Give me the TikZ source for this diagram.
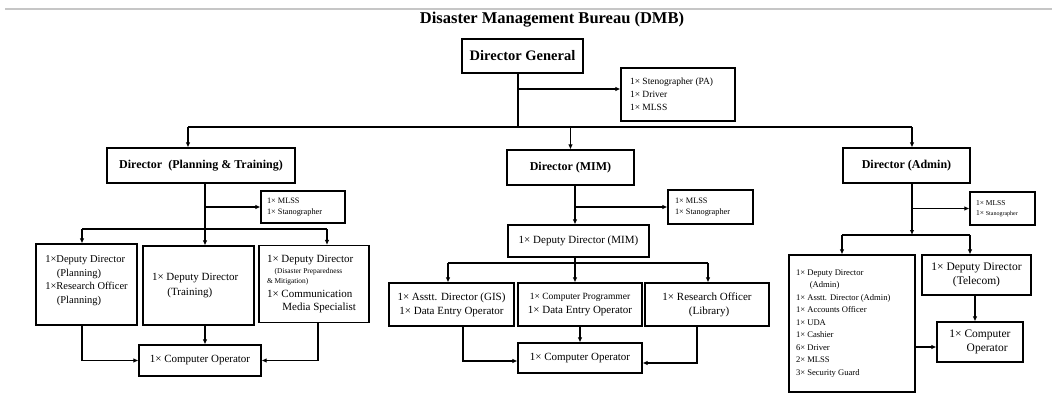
\documentclass[tikz,border=0pt]{standalone}
\usepackage{fontspec}
\setmainfont{Liberation Serif}
\usetikzlibrary{arrows.meta}
\newcommand{\fs}[2]{\fontsize{#1}{#2}\selectfont}
\begin{document}
\begin{tikzpicture}[x=1pt,y=-1pt,
  box/.style={draw=black, line width=1.1pt, inner sep=0pt, align=center},
  lbox/.style={draw=black, line width=1.1pt, inner sep=0pt, align=flush left},
  conn/.style={line width=1.1pt, black},
  arr/.style={line width=1.1pt, black, -{Latex[length=5pt,width=4.5pt]}}]
\useasboundingbox (0,0) rectangle (1052,396);
\fill[white] (0,0) rectangle (1052,396);
\draw[gray!45, line width=1.2pt] (5,9) -- (1052,9);
\node[font=\bfseries\fs{16.5}{18}] (title) at (552,20) {Disaster Management Bureau (DMB)};

% top level
\node[box, minimum width=121, minimum height=34, font=\bfseries\fs{14.5}{16}] (dg) at (522.5,56) {Director General};
\node[lbox, minimum width=114, minimum height=53, text width=96pt, font=\fs{9.5}{13}] (steno) at (678,94.5) {1× Stenographer (PA)\\1× Driver\\1× MLSS};

\node[box, minimum width=188, minimum height=35, font=\bfseries\fs{12}{14}] (dpt) at (201,165.5) {Director\ \ (Planning \& Training)};
\node[box, minimum width=127, minimum height=35, font=\bfseries\fs{12}{14}] (dmim) at (570.5,167.5) {Director (MIM)};
\node[box, minimum width=127, minimum height=35, font=\bfseries\fs{12}{14}] (dadm) at (906.5,165.5) {Director (Admin)};

\coordinate (hL) at (188,127);
\coordinate (hR) at (912,127);
\coordinate (dgx) at (518,127);
\draw[conn] (dgx |- dg.south) -- (dgx);
\draw[arr] ([yshift=5.5pt]steno.west -| dgx) -- ([yshift=5.5pt]steno.west);
\draw[conn] (hL) -- (hR);
\draw[arr] (hL) -- (hL |- dpt.north);
\draw[arr] (dmim.north |- hL) -- (dmim.north);
\draw[arr] (hR) -- (hR |- dadm.north);

% Planning & Training branch
\node[lbox, minimum width=84, minimum height=32, text width=72pt, font=\fs{8.3}{11}] (mlss1) at (303,207) {1× MLSS\\1× Stanographer};
\node[lbox, minimum width=101, minimum height=81, font=\fs{10.5}{13.7}] (pl) at (86.5,284.5) {1×Deputy Director\\\hspace*{1.1em}(Planning)\\1×Research Officer\\\hspace*{1.1em}(Planning)\\[-4pt]};
\node[lbox, minimum width=111, minimum height=79, text width=93pt, font=\fs{11}{15}] (pm) at (198.5,285.5) {1× Deputy Director\\\hspace*{1.4em}(Training)\\[-7pt]};
\node[lbox, minimum width=110, minimum height=77, text width=94pt, font=\fs{11}{13}] (pr) at (314,284) {1× Deputy Director\\[-2pt]\hspace*{0.7em}{\fs{7.4}{8}(Disaster Preparedness}\\[-3pt]{\fs{7.4}{8}\& Mitigation)}\\[1pt]1× Communication\\\hspace*{1.4em}Media Specialist};
\node[box, minimum width=122, minimum height=31, font=\fs{11}{13}] (pco) at (200,360.5) {1× Computer Operator};

\coordinate (pjl) at (82,229);
\coordinate (pjr) at (327,229);
\coordinate (pjm) at (205,229);
\draw[arr] (pjm |- dpt.south) -- (pjm |- pm.north);
\draw[arr] (mlss1.west -| pjm) -- (mlss1.west);
\draw[conn] (pjl) -- (pjr);
\draw[arr] (pjl) -- (pjl |- pl.north);
\draw[arr] (pjr) -- (pjr |- pr.north);
\draw[arr] ([xshift=-4.5pt]pl.south) |- (pco.west);
\draw[arr] (pm.south -| pjm) -- (pjm |- pco.north);
\draw[arr] ([xshift=4pt]pr.south) |- (pco.east);

% MIM branch
\node[lbox, minimum width=85, minimum height=34, text width=71pt, font=\fs{8.3}{11}] (mlss2) at (710.5,207) {1× MLSS\\1× Stanographer};
\node[box, minimum width=141, minimum height=32, font=\fs{11}{13}] (ddm) at (578.5,241) {1× Deputy Director (MIM)};
\node[box, minimum width=125, minimum height=43, font=\fs{11}{14}] (ml) at (451.5,304.5) {1× Asstt. Director (GIS)\\1× Data Entry Operator};
\node[box, minimum width=124, minimum height=43, font=\fs{11}{14}] (mm) at (580,304.5) {{\fs{9.5}{11}1× Computer Programmer}\\1× Data Entry Operator};
\node[lbox, minimum width=124, minimum height=43, font=\fs{11}{14}] (mr) at (707,304.5) {1× Research Officer\\\hspace*{2.4em}(Library)};
\node[box, minimum width=124, minimum height=30, font=\fs{11}{13}] (mco) at (580,358) {1× Computer Operator};

\coordinate (mj) at (575,263);
\draw[arr] (mj |- dmim.south) -- (mj |- ddm.north);
\draw[arr] (mlss2.west -| mj) -- (mlss2.west);
\draw[conn] (ddm.south -| mj) -- (mj);
\coordinate (mjl) at (448,263);
\coordinate (mjr) at (708,263);
\draw[conn] (mjl) -- (mjr);
\draw[arr] (mjl) -- (mjl |- ml.north);
\draw[arr] (mj) -- (mj |- mm.north);
\draw[arr] (mjr) -- (mjr |- mr.north);
\draw[arr] ([xshift=11.5pt]ml.south) |- ([yshift=-3pt]mco.west);
\draw[arr] (mm.south -| mco.north) -- (mco.north);
\draw[arr] ([xshift=-10pt]mr.south) |- ([yshift=-5pt]mco.east);

% Admin branch
\node[lbox, minimum width=65, minimum height=33, text width=53pt, font=\fs{7.5}{10.5}] (mlss3) at (1002.5,208.5) {1× MLSS\\1× {\fs{6}{7}Stanographer}};
\node[lbox, minimum width=126, minimum height=137, text width=112pt, font=\fs{8.6}{12.5}] (al) at (852,323.5) {1× Deputy Director\\\hspace*{1.6em}(Admin)\\1× Asstt. Director (Admin)\\1× Accounts Officer\\1× UDA\\1× Cashier\\6× Driver\\2× MLSS\\3× Security Guard\\[4.5pt]};
\node[box, minimum width=109, minimum height=40, font=\fs{11.5}{14}] (at) at (976.5,275) {1× Deputy Director\\(Telecom)};
\node[lbox, minimum width=86, minimum height=40, font=\fs{11.5}{14}] (aco) at (980,342) {1× Computer\\\hspace*{1.5em}Operator};

\coordinate (aj) at (912,235);
\coordinate (ajl) at (842,235);
\coordinate (ajr) at (970,235);
\draw[arr] (aj |- dadm.south) -- (aj);
\draw[arr] (mlss3.west -| aj) -- (mlss3.west);
\draw[conn] (ajl) -- (ajr);
\draw[arr] (ajl) -- (ajl |- al.north);
\draw[arr] (ajr) -- (ajr |- at.north);
\draw[arr] ([xshift=-1.5pt]at.south) -- ([xshift=-5pt]aco.north);
\draw[arr] ([yshift=-5pt]al.east |- aco.west) -- ([yshift=-5pt]aco.west);
\end{tikzpicture}
\end{document}
